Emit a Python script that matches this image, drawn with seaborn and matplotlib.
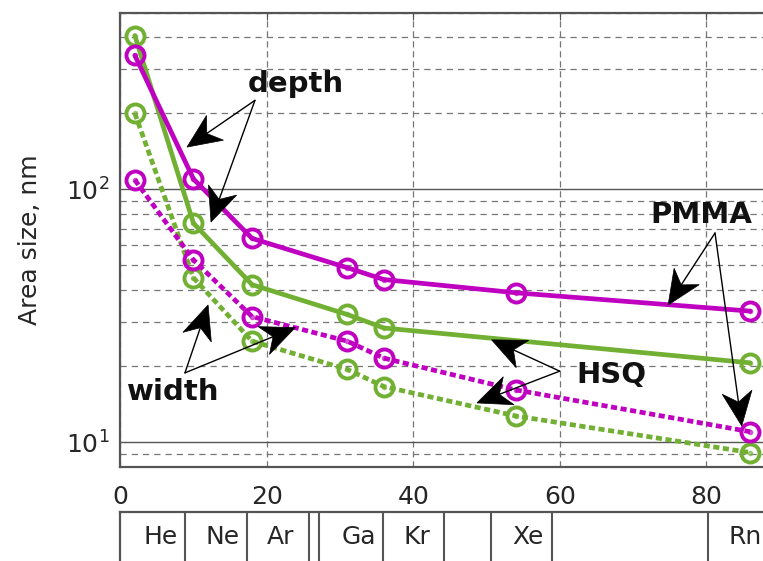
import matplotlib
matplotlib.use("Agg")
import numpy as np
import pandas as pd
import seaborn as sns
import matplotlib.pyplot as plt
from matplotlib.patches import Polygon
from matplotlib.ticker import LogLocator, FixedLocator, NullFormatter, LogFormatterSciNotation

# ---------------- data ----------------
elements = ["He", "Ne", "Ar", "Ga", "Kr", "Xe", "Rn"]
atomic_number = [2, 10, 18, 31, 36, 54, 86]
pmma_depth = [339, 110, 64, 49, 44, 39, 33]
hsq_depth = [406, 73.5, 42, 32, 28.3, np.nan, 20.6]
pmma_width = [109, 52.6, 31.4, 25.1, 21.5, 16.1, 11.0]
hsq_width = [200, 44.7, 25.1, 19.4, 16.6, 12.7, 9.1]

element_label_x = [5.5, 14.0, 21.9, 32.6, 40.5, 55.7, 85.3]
box_dividers = [8.85, 17.27, 25.8, 27.1, 35.9, 44.2, 50.6, 59.0, 80.2]
x_ticks = [0, 20, 40, 60, 80]

MAG = "#C000C0"
GRN = "#72B034"

sns.set_style("white")
plt.rcParams["font.family"] = ["DejaVu Sans"]
plt.rcParams["mathtext.default"] = "regular"

fig = plt.figure(figsize=(7.63, 5.61), dpi=100)
ax = fig.add_axes([0.1575, 0.1681, 0.8641, 0.8093])

df = pd.DataFrame({
    "Z": atomic_number,
    "pmma_depth": pmma_depth,
    "hsq_depth": hsq_depth,
    "pmma_width": pmma_width,
    "hsq_width": hsq_width,
})

dotted = (0, (1.3, 0.75))
series = [
    ("hsq_width", GRN, dotted),
    ("pmma_width", MAG, dotted),
    ("hsq_depth", GRN, "-"),
    ("pmma_depth", MAG, "-"),
]
for col, color, ls in series:
    d = df[["Z", col]].dropna()
    sns.lineplot(data=d, x="Z", y=col, ax=ax, color=color, linestyle=ls,
                 linewidth=3.4, marker="o", markersize=13,
                 markerfacecolor="none", markeredgecolor=color,
                 markeredgewidth=2.8, sort=False, zorder=3)
    # small inner dot of the MATLAB-like marker
    ax.plot(d["Z"], d[col], linestyle="none", marker="o", markersize=3,
            color=color, alpha=0.6, zorder=3)

ax.set_yscale("log")
ax.set_xlim(0, 90)
ax.set_ylim(8, 500)
ax.xaxis.set_major_locator(FixedLocator(x_ticks))
ax.yaxis.set_major_locator(LogLocator(base=10, numticks=10))
ax.yaxis.set_minor_locator(LogLocator(base=10, subs=np.arange(2, 10), numticks=20))
ax.yaxis.set_major_formatter(LogFormatterSciNotation())
ax.yaxis.set_minor_formatter(NullFormatter())

ax.grid(True, which="major", axis="y", color="#555555", linewidth=1.0, linestyle="-")
ax.grid(True, which="minor", axis="y", color="#777777", linewidth=0.9, linestyle=(0, (5, 4)))
ax.grid(True, which="major", axis="x", color="#777777", linewidth=0.9, linestyle=(0, (5, 3)))
ax.set_axisbelow(True)

for s in ["left", "top", "bottom", "right"]:
    ax.spines[s].set_color("#555555")
    ax.spines[s].set_linewidth(1.6)

ax.tick_params(axis="both", which="both", direction="in", colors="#555555",
               labelcolor="#262626", labelsize=18)
ax.tick_params(axis="x", which="major", length=5, pad=13)
ax.tick_params(axis="y", which="major", length=5, pad=8)
ax.tick_params(axis="y", which="minor", length=3)
ax.tick_params(top=True, which="both")

ax.set_xlabel("")
ax.set_ylabel("Area size, nm", fontsize=18, color="#262626", labelpad=17)

# ---------------- annotations ----------------
txt_kw = dict(fontsize=21, fontweight="bold", color="#111111", ha="center", va="baseline", zorder=6)

to_fig = fig.transFigure.inverted()


def notched_arrow(start, tip, L=34.0, W=15.0, notch=10.0):
    s = ax.transData.transform(start)
    t = ax.transData.transform(tip)
    u = (t - s) / np.hypot(*(t - s))
    n = np.array([-u[1], u[0]])
    back = t - (L - notch) * u
    pts = np.array([t, t - L * u + W * n, back, t - L * u - W * n])
    line = np.array([s, back + 2 * u])
    ax.plot(*to_fig.transform(line).T, transform=fig.transFigure, color="black",
            lw=1.0, zorder=5, clip_on=False)
    ax.add_patch(Polygon(to_fig.transform(pts), closed=True, transform=fig.transFigure,
                         facecolor="black", edgecolor="black", lw=0.5, zorder=5,
                         clip_on=False))


ax.text(24.0, 243, "depth", **txt_kw)
for tip in [(9.12, 147), (12.4, 74.3)]:
    notched_arrow((18.4, 225), tip)

ax.text(7.3, 14.7, "width", **txt_kw)
for tip in [(12.0, 34.9), (23.9, 28.4)]:
    notched_arrow((8.84, 18.8), tip)

ax.text(67.1, 17.2, "HSQ", **txt_kw)
for tip in [(50.7, 25.4), (48.7, 14.3)]:
    notched_arrow((60.0, 19.1), tip)

ax.text(79.3, 73.6, "PMMA", **txt_kw)
for tip in [(74.8, 34.9), (84.85, 11.6)]:
    notched_arrow((81.2, 67.2), tip)

# ---------------- element box ----------------
bx = fig.add_axes([0.1575, 0.0, 0.8641, 0.0868])
bx.set_xlim(0, 90)
bx.set_ylim(0, 1)
bx.set_xticks([])
bx.set_yticks([])
bx.spines["bottom"].set_visible(False)
bx.spines["right"].set_visible(False)
for s in ["left", "top"]:
    bx.spines[s].set_color("#555555")
    bx.spines[s].set_linewidth(1.6)
for xd in box_dividers:
    bx.axvline(xd, color="#555555", linewidth=1.5)
for xl, name in zip(element_label_x, elements):
    bx.text(xl, 0.5, name, fontsize=18, color="#262626", ha="center", va="center")

fig.savefig("out.png", dpi=100)
